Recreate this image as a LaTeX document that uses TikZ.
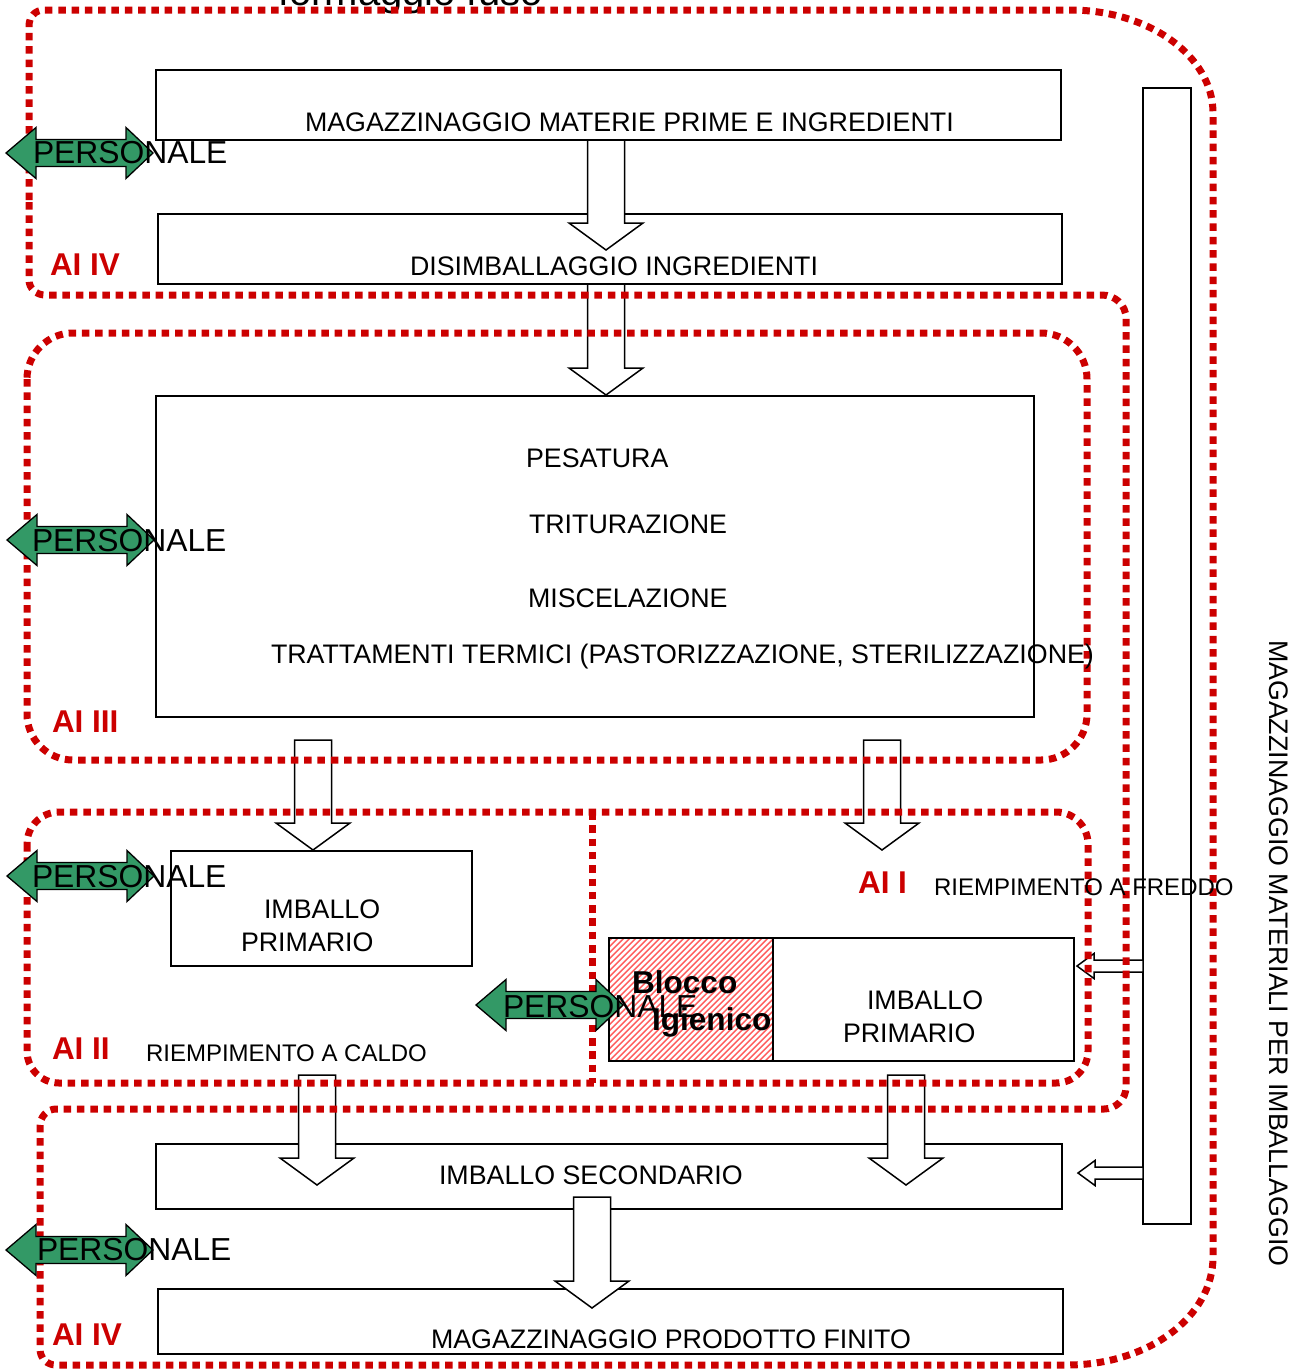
\documentclass[tikz,border=0pt]{standalone}
\usepackage{fontspec}
\setmainfont{Liberation Sans}
\usetikzlibrary{calc,fit}
\definecolor{zred}{RGB}{204,0,0}
\definecolor{pgreen}{RGB}{51,153,102}
\definecolor{hred}{RGB}{255,90,90}
\newcommand\fN{\fontsize{26.8}{32}\selectfont}
\newcommand\fS{\fontsize{24}{29}\selectfont}
\newcommand\fP{\fontsize{31.8}{38}\selectfont}
\newcommand\fB{\fontsize{31.5}{38}\selectfont\bfseries}
\newcommand\fH{\fontsize{31.6}{38}\selectfont\bfseries}
\tikzset{
 box/.style={draw=black, line width=1.5pt, fill=white, inner sep=0pt, outer sep=0pt},
 blk/.style={draw=black, line width=1.5pt, fill=white, line join=miter},
 zone/.style={draw=zred, line width=7pt, dash pattern=on 7.5pt off 5.8pt},
 pers/.style={draw=black, line width=1.3pt, fill=pgreen, line join=miter},
 txt/.style={anchor=base west, inner sep=0pt, outer sep=0pt, text=black},
 ailabel/.style={txt, text=zred, font=\fB},
 hatchline/.style={draw=hred, line width=1.4pt},
}
% down block arrow: x, start coordinate, tip coordinate
\newcommand\barrowdown[3]{%
 \draw[blk] let \p1=(#2), \p2=(#3) in
  (#1pt-18.5pt,\y1) -- (#1pt+18.5pt,\y1) -- (#1pt+18.5pt,\y2+27pt) -- (#1pt+37pt,\y2+27pt)
  -- (#1pt,\y2) -- (#1pt-37pt,\y2+27pt) -- (#1pt-18.5pt,\y2+27pt) -- cycle;}
% left block arrow: start coordinate, tip coordinate
\newcommand\barrowleft[2]{%
 \draw[blk] let \p1=(#1), \p2=(#2) in
  (\x1,\y1+6pt) -- (\x2+17pt,\y1+6pt) -- (\x2+17pt,\y1+12.5pt) -- (\x2,\y1)
  -- (\x2+17pt,\y1-12.5pt) -- (\x2+17pt,\y1-6pt) -- (\x1,\y1-6pt) -- cycle;}
% green double arrow: name, left tip x, centre y
\newcommand\greenarr[3]{%
 \draw[pers] (#2,#3) -- ({#2+30},{#3-25.5}) -- ({#2+30},{#3-13.5}) -- ({#2+120},{#3-13.5})
  -- ({#2+120},{#3-25.5}) -- ({#2+147},#3) -- ({#2+120},{#3+25.5}) -- ({#2+120},{#3+13.5})
  -- ({#2+30},{#3+13.5}) -- ({#2+30},{#3+25.5}) -- cycle;
 \coordinate (#1) at ({#2+73.5},#3);}
\begin{document}
\begin{tikzpicture}[x=1pt,y=-1pt]
\fill[white] (0,0) rectangle (1308,1371);
\useasboundingbox (0,0) rectangle (1308,1371);

% title (cut by the page edge)
\node[txt, font=\fontsize{40}{47}\selectfont] (title) at (278,5) {formaggio fuso};

% boxes
\node[box, fit={(156,70) (1061,140)}] (m1) {};
\node[box, fit={(158,214) (1062,284)}] (m2) {};
\node[box, fit={(156,396) (1034,717)}] (proc) {};
\node[box, fit={(171,851) (472,966)}] (imp1) {};
\node[box, fit={(609,938) (773,1061)}] (hyg) {};
\node[box, fit={(773,938) (1074,1061)}] (imp2) {};
\node[box, fit={(156,1144) (1062,1209)}] (sec) {};
\node[box, fit={(158,1289) (1063,1354)}] (pf) {};
\node[box, fit={(1143,88) (1191,1224)}] (vr) {};

% hatch of the hygiene block
\begin{scope}
 \clip (hyg.south west) rectangle (hyg.north east);
 \foreach \xx in {480,486,...,780} \draw[hatchline] (\xx,1064) -- ++(130,-130);
\end{scope}
\draw[line width=1.5pt] (hyg.south west) rectangle (hyg.north east);

% block arrows
\coordinate (a1s) at (m1.south);   \coordinate (a1e) at ($(m2.north)+(0,36)$);
\coordinate (a2s) at (m2.south);   \coordinate (a2e) at ($(proc.north)+(0,-1)$);
\coordinate (a3s) at ($(proc.south)+(0,23)$); \coordinate (a3e) at ($(imp1.north)+(0,-1)$);
\coordinate (a4s) at ($(proc.south)+(0,23)$); \coordinate (a4e) at ($(imp2.north)+(0,-88)$);
\coordinate (a5s) at ($(imp1.south)+(0,109)$); \coordinate (a5e) at ($(sec.north)+(0,41)$);
\coordinate (a6s) at ($(imp2.south)+(0,14)$); \coordinate (a6e) at ($(sec.north)+(0,41)$);
\coordinate (a7s) at ($(sec.south)+(0,-12)$); \coordinate (a7e) at ($(pf.north)+(0,19)$);
\barrowdown{606}{a1s}{a1e}
\barrowdown{606}{a2s}{a2e}
\barrowdown{313}{a3s}{a3e}
\barrowdown{882}{a4s}{a4e}
\barrowdown{317}{a5s}{a5e}
\barrowdown{906}{a6s}{a6e}
\barrowdown{592}{a7s}{a7e}

\coordinate (b1s) at (vr.west |- 0,966);  \coordinate (b1e) at (1077,966);
\coordinate (b2s) at (vr.west |- 0,1173); \coordinate (b2e) at (1078,1173);
\barrowleft{b1s}{b1e}
\barrowleft{b2s}{b2e}

% zones
\draw[zone] (29,200) -- (29,26) .. controls (29,17) and (35,10) .. (44,10)
 -- (1070,10) .. controls (1149,10) and (1213,56) .. (1213,113)
 -- (1213,1257) .. controls (1213,1317) and (1148,1365) .. (1067,1365)
 -- (56,1365) .. controls (47,1365) and (40,1358) .. (40,1349)
 -- (40,1126) .. controls (40,1117) and (47,1109) .. (56,1109)
 -- (1104,1109) .. controls (1116,1109) and (1126,1099) .. (1126,1087)
 -- (1126,318) .. controls (1126,305) and (1115,295) .. (1102,295)
 -- (45,295) .. controls (36,295) and (29,288) .. (29,280) -- cycle;
\draw[zone, rounded corners=46pt] (27,333) rectangle (1087,760);
\draw[zone, rounded corners=32pt] (27,812) rectangle (1088,1083);
\draw[zone] (592,812) -- (592,1083);

% personale arrows
\greenarr{g1}{6}{153}
\greenarr{g2}{7}{540}
\greenarr{g3}{7}{876}
\greenarr{g4}{6}{1250}
\greenarr{g5}{476}{1005}

% texts
\node[txt, font=\fN] (t1) at (305,131) {MAGAZZINAGGIO MATERIE PRIME E INGREDIENTI};
\node[txt, font=\fN] (t2) at (410,275) {DISIMBALLAGGIO INGREDIENTI};
\node[txt, font=\fN] (t3) at (526,467) {PESATURA};
\node[txt, font=\fN] (t4) at (529,533) {TRITURAZIONE};
\node[txt, font=\fN] (t5) at (528,607) {MISCELAZIONE};
\node[txt, font=\fN] (t6) at (271,663) {TRATTAMENTI TERMICI (PASTORIZZAZIONE, STERILIZZAZIONE)};
\node[txt, font=\fN] (t7) at (264,918) {IMBALLO};
\node[txt, font=\fN] (t8) at (241,951) {PRIMARIO};
\node[txt, font=\fN] (t9) at (867,1009) {IMBALLO};
\node[txt, font=\fN] (t10) at (843,1042) {PRIMARIO};
\node[txt, font=\fN] (t11) at (439,1184) {IMBALLO SECONDARIO};
\node[txt, font=\fN] (t12) at (431,1348) {MAGAZZINAGGIO PRODOTTO FINITO};
\node[txt, font=\fS] (t13) at (934,895) {RIEMPIMENTO A FREDDO};
\node[txt, font=\fS] (t14) at (146,1061) {RIEMPIMENTO A CALDO};
\node[txt, font=\fH] (t15) at (632,993) {Blocco};
\node[txt, font=\fH] (t16) at (652,1030) {Igienico};
\node[txt, font=\fN, rotate=-90] (t17) at (1269,640) {MAGAZZINAGGIO MATERIALI PER IMBALLAGGIO};

\node[ailabel] (z1) at (50,275) {AI IV};
\node[ailabel] (z2) at (52,732) {AI III};
\node[ailabel] (z3) at (52,1059) {AI II};
\node[ailabel] (z4) at (858,893) {AI I};
\node[ailabel] (z5) at (52,1345) {AI IV};

\node[txt, font=\fP] (p1) at (33,163) {PERSONALE};
\node[txt, font=\fP] (p2) at (32,551) {PERSONALE};
\node[txt, font=\fP] (p3) at (32,887) {PERSONALE};
\node[txt, font=\fP] (p4) at (37,1260) {PERSONALE};
\node[txt, font=\fP] (p5) at (503,1017) {PERSONALE};
\end{tikzpicture}
\end{document}
